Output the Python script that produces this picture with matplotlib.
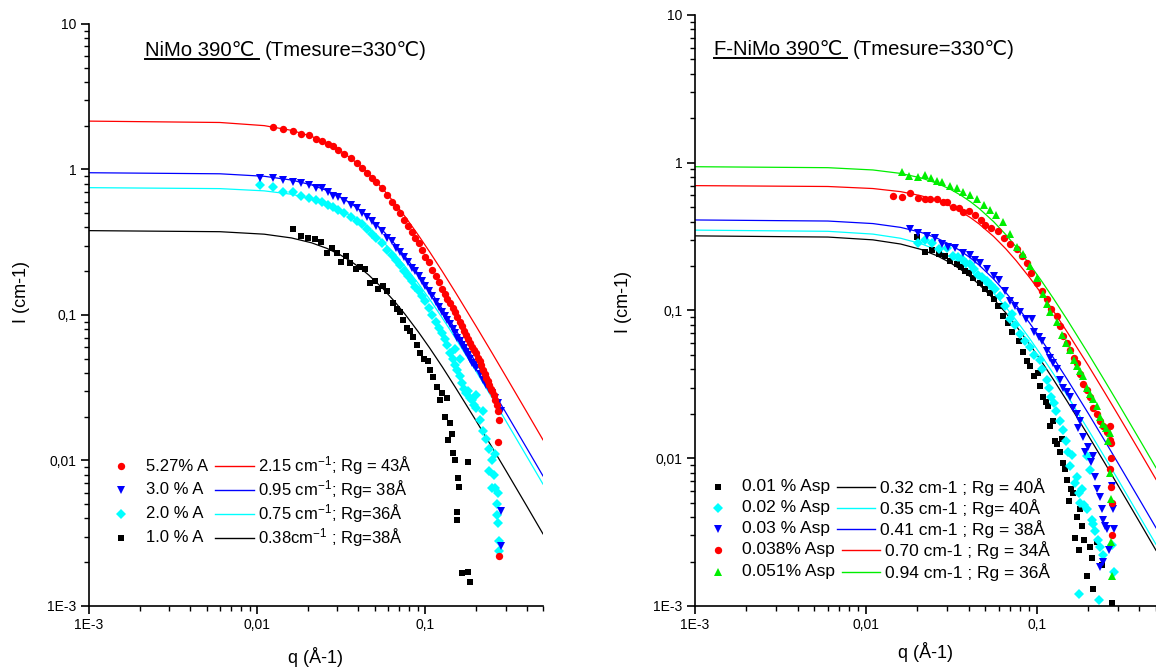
import matplotlib
matplotlib.use('Agg')
import matplotlib.pyplot as plt
from matplotlib.lines import Line2D
from matplotlib.ticker import LogLocator, NullFormatter

plt.rcParams['font.family'] = ['Liberation Sans', 'DejaVu Sans']
plt.rcParams['mathtext.fontset'] = 'custom'
plt.rcParams['mathtext.rm'] = 'Liberation Sans'
plt.rcParams['mathtext.it'] = 'Liberation Sans:italic'

# ---------------- left panel : NiMo 390C ----------------
q_red_L = [0.0124, 0.0143, 0.0163, 0.0183, 0.0203, 0.0223, 0.0243, 0.0263, 0.0283, 0.0303,
           0.033, 0.036, 0.039, 0.042, 0.045, 0.048, 0.051, 0.055, 0.059, 0.063,
           0.067, 0.071, 0.075, 0.079, 0.083, 0.087, 0.091, 0.095, 0.1, 0.105,
           0.11, 0.115, 0.12, 0.125, 0.13, 0.135, 0.14, 0.145, 0.15, 0.155,
           0.16, 0.165, 0.17, 0.175, 0.18, 0.185, 0.19, 0.195, 0.2, 0.205,
           0.21, 0.215, 0.22, 0.225, 0.23, 0.235, 0.24, 0.245, 0.25, 0.255,
           0.26, 0.265, 0.27, 0.275, 0.27, 0.275]
I_red_L = [1.95, 1.90, 1.84, 1.76, 1.72, 1.62, 1.58, 1.49, 1.45, 1.36,
           1.28, 1.20, 1.10, 1.03, 0.95, 0.88, 0.82, 0.74, 0.67, 0.60,
           0.55, 0.50, 0.45, 0.41, 0.37, 0.34, 0.31, 0.28, 0.25, 0.23,
           0.205, 0.185, 0.168, 0.152, 0.140, 0.128, 0.120, 0.112, 0.105, 0.097,
           0.090, 0.084, 0.078, 0.073, 0.068, 0.064, 0.060, 0.057, 0.055, 0.051,
           0.048, 0.045, 0.042, 0.039, 0.037, 0.035, 0.033, 0.031, 0.030, 0.028,
           0.026, 0.024, 0.022, 0.019, 0.0135, 0.0022]

q_blue_L = [0.0104, 0.0124, 0.0143, 0.0163, 0.0183, 0.0203, 0.0223, 0.0243, 0.0263, 0.0283,
            0.0303, 0.033, 0.036, 0.039, 0.042, 0.045, 0.048, 0.051, 0.055, 0.059,
            0.063, 0.067, 0.071, 0.075, 0.079, 0.083, 0.087, 0.091, 0.095, 0.1,
            0.105, 0.11, 0.115, 0.12, 0.125, 0.13, 0.135, 0.14, 0.145, 0.15,
            0.155, 0.16, 0.165, 0.17, 0.175, 0.18, 0.185, 0.19, 0.195, 0.2,
            0.21, 0.22, 0.23, 0.24, 0.25, 0.26, 0.27, 0.28, 0.28, 0.28]
I_blue_L = [0.88, 0.88, 0.85, 0.82, 0.81, 0.78, 0.75, 0.74, 0.70, 0.66,
            0.65, 0.61, 0.57, 0.54, 0.50, 0.47, 0.44, 0.41, 0.38, 0.34,
            0.32, 0.29, 0.27, 0.25, 0.23, 0.21, 0.20, 0.185, 0.172, 0.158,
            0.145, 0.134, 0.122, 0.113, 0.105, 0.098, 0.092, 0.086, 0.080, 0.075,
            0.070, 0.066, 0.062, 0.059, 0.056, 0.053, 0.050, 0.047, 0.045, 0.043,
            0.039, 0.036, 0.033, 0.031, 0.029, 0.027, 0.025, 0.022, 0.0045, 0.0026]

q_cyan_L = [0.0104, 0.0124, 0.0143, 0.0163, 0.0183, 0.0203, 0.0223, 0.0243, 0.0263, 0.0283,
            0.0303, 0.033, 0.036, 0.039, 0.042, 0.045, 0.048, 0.051, 0.055, 0.059,
            0.063, 0.067, 0.071, 0.075, 0.079, 0.083, 0.087, 0.091, 0.095, 0.1,
            0.105, 0.11, 0.115, 0.12, 0.125, 0.13, 0.135, 0.14, 0.145, 0.15,
            0.155, 0.16, 0.165, 0.17, 0.175, 0.18, 0.185, 0.19, 0.195, 0.2,
            0.21, 0.22, 0.23, 0.24, 0.25, 0.255, 0.26, 0.265, 0.27, 0.275,
            0.15, 0.16, 0.2, 0.22, 0.24, 0.25, 0.26, 0.27, 0.275, 0.265]
I_cyan_L = [0.78, 0.76, 0.70, 0.70, 0.66, 0.64, 0.62, 0.60, 0.57, 0.55,
            0.53, 0.50, 0.47, 0.44, 0.42, 0.39, 0.36, 0.34, 0.31, 0.28,
            0.26, 0.24, 0.22, 0.20, 0.185, 0.17, 0.155, 0.145, 0.135, 0.125,
            0.112, 0.100, 0.090, 0.082, 0.075, 0.068, 0.062, 0.055, 0.050, 0.045,
            0.042, 0.038, 0.034, 0.031, 0.029, 0.030, 0.027, 0.026, 0.024, 0.023,
            0.019, 0.016, 0.014, 0.012, 0.010, 0.008, 0.0065, 0.005, 0.0037, 0.0028,
            0.058, 0.050, 0.028, 0.022, 0.0085, 0.0065, 0.011, 0.006, 0.0024, 0.0042]

q_black_L = [0.0163, 0.0182, 0.0201, 0.0221, 0.0239, 0.0259, 0.0277, 0.0297, 0.0314, 0.0336,
             0.0356, 0.0387, 0.0408, 0.0437, 0.0469, 0.050, 0.0525, 0.056, 0.0589, 0.0646,
             0.068, 0.0707, 0.074, 0.0774, 0.081, 0.0848, 0.089, 0.093, 0.098, 0.104,
             0.107, 0.111, 0.117, 0.122, 0.126, 0.131, 0.134, 0.137, 0.14, 0.143,
             0.145, 0.150, 0.154, 0.155, 0.156, 0.158, 0.164, 0.178, 0.178, 0.184]
I_black_L = [0.39, 0.35, 0.34, 0.333, 0.316, 0.268, 0.29, 0.265, 0.232, 0.255,
             0.226, 0.206, 0.215, 0.206, 0.165, 0.17, 0.15, 0.157, 0.145, 0.12,
             0.11, 0.105, 0.092, 0.081, 0.078, 0.071, 0.062, 0.0545, 0.05, 0.048,
             0.042, 0.0377, 0.032, 0.026, 0.029, 0.020, 0.027, 0.0138, 0.018, 0.0153,
             0.0112, 0.0101, 0.0044, 0.0039, 0.0076, 0.0066, 0.00168, 0.0097, 0.0017, 0.00147]

# fitted curves of the left panel
q_fit = [0.001, 0.006, 0.011, 0.016, 0.021, 0.026, 0.031, 0.036, 0.041, 0.046, 0.056,
         0.066, 0.076, 0.091, 0.106, 0.126, 0.151, 0.201, 0.251, 0.301, 0.401, 0.5]
fit_red_L = [2.149, 2.103, 2.001, 1.857, 1.690, 1.518, 1.350, 1.195, 1.056, 0.933, 0.733,
             0.583, 0.4715, 0.352, 0.2713, 0.1994, 0.1428, 0.0830, 0.0540, 0.0378, 0.02148, 0.01386]
fit_blue_L = [0.9495, 0.9338, 0.8977, 0.8458, 0.7837, 0.7168, 0.6496, 0.5851, 0.5251, 0.4707, 0.3786,
              0.3068, 0.2513, 0.1905, 0.1483, 0.1099, 0.0793, 0.04647, 0.03033, 0.02130, 0.01212, 0.00783]
fit_cyan_L = [0.7497, 0.7385, 0.7128, 0.6753, 0.6300, 0.5805, 0.5300, 0.4808, 0.4345, 0.3918, 0.3185,
              0.2603, 0.2146, 0.1638, 0.1281, 0.0954, 0.0691, 0.0406, 0.0266, 0.01868, 0.01064, 0.00688]
fit_black_L = [0.3798, 0.3735, 0.3591, 0.3383, 0.3135, 0.2867, 0.2598, 0.2340, 0.2101, 0.1883, 0.1514,
               0.1227, 0.1005, 0.0762, 0.0593, 0.0440, 0.0317, 0.01859, 0.01213, 0.00852, 0.00485, 0.00313]

# ---------------- right panel : F-NiMo 390C ----------------
q_black_R = [0.0199, 0.0222, 0.0243, 0.027, 0.029, 0.0311, 0.034, 0.036, 0.038, 0.040,
             0.0425, 0.0466, 0.050, 0.0533, 0.0565, 0.0597, 0.061, 0.0638, 0.068, 0.072,
             0.0785, 0.083, 0.0875, 0.092, 0.097, 0.102, 0.105, 0.109, 0.113, 0.117,
             0.12, 0.124, 0.128, 0.132, 0.137, 0.14, 0.143, 0.147, 0.150, 0.154,
             0.158, 0.163, 0.168, 0.172, 0.176, 0.18, 0.185, 0.19, 0.196, 0.205,
             0.21, 0.215, 0.225, 0.24, 0.275]
I_black_R = [0.316, 0.25, 0.257, 0.24, 0.235, 0.216, 0.205, 0.198, 0.185, 0.178,
             0.167, 0.154, 0.14, 0.132, 0.12, 0.107, 0.107, 0.0914, 0.082, 0.072,
             0.062, 0.052, 0.0453, 0.042, 0.036, 0.0378, 0.031, 0.026, 0.024, 0.0225,
             0.0164, 0.018, 0.013, 0.0125, 0.011, 0.0135, 0.0093, 0.0085, 0.0071, 0.0051,
             0.0062, 0.0058, 0.0029, 0.004, 0.0024, 0.0045, 0.0035, 0.0028, 0.0016, 0.0025,
             0.0021, 0.0013, 0.0027, 0.0019, 0.00105]

q_cyan_R = [0.0203, 0.0222, 0.0243, 0.027, 0.0297, 0.0325, 0.0345, 0.0364, 0.0385, 0.0407,
            0.043, 0.0454, 0.048, 0.051, 0.054, 0.057, 0.061, 0.065, 0.0698, 0.072,
            0.075, 0.080, 0.085, 0.0914, 0.097, 0.105, 0.108, 0.1145, 0.118, 0.122,
            0.126, 0.13, 0.137, 0.143, 0.148, 0.152, 0.157, 0.162, 0.167, 0.172,
            0.176, 0.179, 0.185, 0.19, 0.196, 0.196, 0.205, 0.21, 0.215, 0.22,
            0.228, 0.235, 0.245, 0.275, 0.284, 0.176, 0.231]
I_cyan_R = [0.284, 0.30, 0.287, 0.26, 0.263, 0.233, 0.23, 0.222, 0.21, 0.205,
            0.19, 0.175, 0.168, 0.158, 0.148, 0.139, 0.125, 0.108, 0.087, 0.095,
            0.08, 0.069, 0.062, 0.057, 0.05, 0.0465, 0.04, 0.034, 0.03, 0.026,
            0.0237, 0.021, 0.018, 0.0156, 0.013, 0.011, 0.0088, 0.0105, 0.0068, 0.0075,
            0.0058, 0.005, 0.0062, 0.0048, 0.0103, 0.0045, 0.0083, 0.0038, 0.0036, 0.0032,
            0.0028, 0.0025, 0.0022, 0.0026, 0.0017, 0.0012, 0.0011]

q_blue_R = [0.0182, 0.0203, 0.0227, 0.0254, 0.0278, 0.0304, 0.0333, 0.0372, 0.0407, 0.0437,
            0.0466, 0.051, 0.056, 0.060, 0.065, 0.0698, 0.075, 0.080, 0.087, 0.0935,
            0.097, 0.103, 0.108, 0.1145, 0.12, 0.125, 0.131, 0.137, 0.143, 0.15,
            0.157, 0.163, 0.172, 0.175, 0.18, 0.188, 0.193, 0.2, 0.208, 0.215,
            0.22, 0.225, 0.235, 0.24, 0.245, 0.25, 0.257, 0.265, 0.235, 0.245,
            0.275, 0.28, 0.285]
I_blue_R = [0.354, 0.336, 0.32, 0.31, 0.283, 0.27, 0.266, 0.246, 0.237, 0.22,
            0.21, 0.19, 0.171, 0.16, 0.135, 0.116, 0.108, 0.098, 0.088, 0.087,
            0.072, 0.066, 0.062, 0.053, 0.048, 0.044, 0.040, 0.034, 0.030, 0.028,
            0.026, 0.022, 0.020, 0.016, 0.018, 0.014, 0.011, 0.012, 0.0095, 0.0103,
            0.0075, 0.0062, 0.0055, 0.0045, 0.0038, 0.0035, 0.0033, 0.0024, 0.00185, 0.002,
            0.0065, 0.0045, 0.0033]

q_red_R = [0.0144, 0.0162, 0.0182, 0.0203, 0.0222, 0.0238, 0.026, 0.0282, 0.030, 0.0325,
           0.035, 0.0372, 0.040, 0.0436, 0.047, 0.0499, 0.054, 0.0597, 0.064, 0.07,
           0.0764, 0.082, 0.0875, 0.093, 0.1, 0.107, 0.1145, 0.122, 0.131, 0.137,
           0.143, 0.15, 0.157, 0.165, 0.172, 0.18, 0.188, 0.196, 0.205, 0.215,
           0.225, 0.235, 0.246, 0.257, 0.269, 0.27, 0.272, 0.274, 0.268, 0.272,
           0.275, 0.275]
I_red_R = [0.595, 0.59, 0.62, 0.58, 0.57, 0.57, 0.565, 0.54, 0.54, 0.505,
           0.49, 0.464, 0.47, 0.44, 0.41, 0.377, 0.36, 0.345, 0.31, 0.28,
           0.26, 0.235, 0.21, 0.18, 0.154, 0.135, 0.119, 0.103, 0.092, 0.078,
           0.067, 0.06, 0.054, 0.048, 0.044, 0.037, 0.032, 0.029, 0.026, 0.022,
           0.020, 0.018, 0.0164, 0.015, 0.0133, 0.0166, 0.0127, 0.010, 0.0084, 0.0064,
           0.005, 0.003]

q_green_R = [0.0162, 0.018, 0.0203, 0.0222, 0.024, 0.026, 0.028, 0.0311, 0.034, 0.0372,
             0.041, 0.0446, 0.049, 0.0533, 0.058, 0.0638, 0.07, 0.0764, 0.083, 0.0914,
             0.1, 0.109, 0.115, 0.12, 0.131, 0.14, 0.148, 0.157, 0.165, 0.172,
             0.18, 0.188, 0.196, 0.205, 0.215, 0.225, 0.235, 0.245, 0.255, 0.262,
             0.269, 0.27, 0.272, 0.273, 0.275]
I_green_R = [0.866, 0.81, 0.80, 0.82, 0.79, 0.75, 0.74, 0.70, 0.67, 0.63,
             0.60, 0.57, 0.52, 0.48, 0.44, 0.40, 0.33, 0.27, 0.24, 0.20,
             0.165, 0.13, 0.11, 0.098, 0.083, 0.068, 0.06, 0.054, 0.046, 0.042,
             0.039, 0.036, 0.03, 0.027, 0.025, 0.0224, 0.019, 0.017, 0.016, 0.013,
             0.0148, 0.0079, 0.0053, 0.0027, 0.0016]

fit_black_R = [0.3198, 0.3140, 0.3006, 0.2816, 0.2591, 0.2352, 0.2116, 0.1892, 0.1687, 0.1503, 0.1197,
               0.0963, 0.0784, 0.0591, 0.0458, 0.0338, 0.0243, 0.01419, 0.00925, 0.00649, 0.00369, 0.00238]
fit_cyan_R = [0.3498, 0.3434, 0.3288, 0.3080, 0.2834, 0.2573, 0.2314, 0.2070, 0.1846, 0.1644, 0.1310,
              0.1053, 0.0858, 0.0646, 0.0501, 0.0370, 0.0266, 0.01552, 0.01012, 0.00710, 0.00403, 0.00261]
fit_blue_R = [0.4098, 0.4030, 0.3874, 0.3650, 0.3382, 0.3093, 0.2803, 0.2525, 0.2266, 0.2031, 0.1634,
              0.1324, 0.1085, 0.0822, 0.0640, 0.0474, 0.0342, 0.02005, 0.01309, 0.00919, 0.00523, 0.00338]
fit_red_R = [0.6997, 0.6904, 0.6688, 0.6371, 0.5983, 0.5553, 0.5109, 0.4669, 0.4248, 0.3856, 0.3170,
             0.2614, 0.2170, 0.1670, 0.1314, 0.0984, 0.0715, 0.0423, 0.0277, 0.01949, 0.01112, 0.00719]
fit_green_R = [0.9396, 0.9256, 0.8933, 0.8464, 0.7896, 0.7275, 0.6642, 0.6026, 0.5446, 0.4911, 0.3992,
               0.3262, 0.2689, 0.2054, 0.1606, 0.1196, 0.0866, 0.0509, 0.0333, 0.02342, 0.01334, 0.00862]

labels_L = ['5.27% A', '3.0 % A', '2.0 % A', '1.0 % A']
fitlabels_L = [r'2.15 cm$^{-1}$; Rg = 43Å', r'0.95 cm$^{-1}$; Rg= 38Å',
               r'0.75 cm$^{-1}$; Rg=36Å', r'0.38cm$^{-1}$ ; Rg=38Å']
labels_R = ['0.01 % Asp', '0.02 % Asp', '0.03 % Asp', '0.038% Asp', '0.051% Asp']
fitlabels_R = ['0.32 cm-1 ; Rg = 40Å', '0.35 cm-1 ; Rg= 40Å', '0.41 cm-1 ; Rg = 38Å',
               '0.70 cm-1 ; Rg = 34Å', '0.94 cm-1 ; Rg = 36Å']

RED, BLUE, CYAN, BLACK, GREEN = '#ff0000', '#0000ff', '#00ffff', '#000000', '#00ee00'
MS = {'o': 5.3, 'v': 6.0, 'D': 5.2, 's': 4.8, '^': 6.0}


def style_axis(ax, ylab_xy, xlab_y):
    ax.set_xscale('log')
    ax.set_yscale('log')
    ax.set_xlim(1e-3, 0.5)
    ax.set_ylim(1e-3, 10)
    ax.spines['top'].set_visible(False)
    ax.spines['right'].set_visible(False)
    for s in ('left', 'bottom'):
        ax.spines[s].set_linewidth(1.2)
    ax.set_xticks([1e-3, 1e-2, 1e-1])
    ax.set_xticklabels(['1E-3', '0,01', '0,1'])
    ax.set_yticks([1e-3, 1e-2, 1e-1, 1, 10])
    ax.set_yticklabels(['1E-3', '0,01', '0,1', '1', '10'])
    for axis in (ax.xaxis, ax.yaxis):
        axis.set_minor_locator(LogLocator(base=10, subs=range(2, 10), numticks=20))
        axis.set_minor_formatter(NullFormatter())
    ax.tick_params(which='major', direction='out', length=6, width=1.2, labelsize=10, pad=3)
    ax.tick_params(which='minor', direction='out', length=3.5, width=1.0)
    ax.set_xlabel('q (Å-1)', fontsize=13)
    ax.set_ylabel('I (cm-1)', fontsize=13)
    ax.xaxis.label.set_va('center')
    ax.yaxis.label.set_va('center')
    ax.xaxis.set_label_coords(0.5, xlab_y)
    ax.yaxis.set_label_coords(*ylab_xy)


def title(fig, ax, x, y, under, rest, size=14.6):
    t = ax.text(x, y, under, transform=ax.transAxes, fontsize=size, va='baseline')
    r = fig.canvas.get_renderer()
    bb = t.get_window_extent(r)
    inv = fig.transFigure.inverted()
    (fx0, fy), (fx1, _) = inv.transform([(bb.x0, bb.y0 + 1), (bb.x1 + 5, bb.y0 + 1)])
    fig.add_artist(Line2D([fx0, fx1], [fy, fy], color='black', lw=1.4))
    ax_inv = ax.transAxes.inverted()
    rx, _ = ax_inv.transform((bb.x1 + 10, bb.y0))
    ax.text(rx, y, rest, transform=ax.transAxes, fontsize=size, va='baseline')


def legend(ax, rows, mx, tx, lx, fx, markers, colors, labels, fitlabels, size):
    for i, yy in enumerate(rows):
        m = markers[i]
        ax.plot([mx], [yy], m, color=colors[i], ms=MS[m], mew=0, transform=ax.transAxes, clip_on=False)
        ax.text(tx, yy, labels[i], transform=ax.transAxes, fontsize=size, va='center')
        ax.plot(lx[i], [yy, yy], '-', color=colors[i], lw=1.0, transform=ax.transAxes)
        ax.text(fx[i], yy, fitlabels[i], transform=ax.transAxes, fontsize=size, va='center')


fig = plt.figure(figsize=(11.56, 6.71), dpi=100)
ax1 = fig.add_axes([0.0770, 0.0969, 0.3927, 0.8674])
ax2 = fig.add_axes([0.6012, 0.0969, 0.3988, 0.8808])

# left panel
for f, c in [(fit_black_L, BLACK), (fit_cyan_L, CYAN), (fit_blue_L, BLUE), (fit_red_L, RED)]:
    ax1.plot(q_fit, f, '-', color=c, lw=0.9, zorder=2)
ax1.plot(q_black_L, I_black_L, 's', color=BLACK, ms=MS['s'], mew=0, zorder=3)
ax1.plot(q_cyan_L, I_cyan_L, 'D', color=CYAN, ms=MS['D'], mew=0, zorder=3)
ax1.plot(q_blue_L, I_blue_L, 'v', color=BLUE, ms=MS['v'], mew=0, zorder=3)
ax1.plot(q_red_L, I_red_L, 'o', color=RED, ms=MS['o'], mew=0, zorder=3)
style_axis(ax1, (-0.148, 0.54), -0.088)

# right panel
for f, c in [(fit_black_R, BLACK), (fit_cyan_R, CYAN), (fit_blue_R, BLUE), (fit_red_R, RED), (fit_green_R, GREEN)]:
    ax2.plot(q_fit, f, '-', color=c, lw=0.9, zorder=2)
ax2.plot(q_black_R, I_black_R, 's', color=BLACK, ms=MS['s'], mew=0, zorder=3)
ax2.plot(q_cyan_R, I_cyan_R, 'D', color=CYAN, ms=MS['D'], mew=0, zorder=3)
ax2.plot(q_blue_R, I_blue_R, 'v', color=BLUE, ms=MS['v'], mew=0, zorder=3)
ax2.plot(q_red_R, I_red_R, 'o', color=RED, ms=MS['o'], mew=0, zorder=3)
ax2.plot(q_green_R, I_green_R, '^', color=GREEN, ms=MS['^'], mew=0, zorder=3)
style_axis(ax2, (-0.154, 0.514), -0.078)

fig.canvas.draw()
title(fig, ax1, 0.1233, 0.945, 'NiMo 390℃', '(Tmesure=330℃)')
title(fig, ax2, 0.0412, 0.932, 'F-NiMo 390℃', '(Tmesure=330℃)')

legend(ax1, [0.2405, 0.1993, 0.1581, 0.1168], 0.0705, 0.1256,
       [[0.2775, 0.3634]] * 4, [0.3722] * 4,
       ['o', 'v', 'D', 's'], [RED, BLUE, CYAN, BLACK],
       labels_L, fitlabels_L, 12)
legend(ax2, [0.2014, 0.1658, 0.1303, 0.0948, 0.0575], 0.0499, 0.102,
       [[0.308, 0.3905]] * 3 + [[0.3189, 0.4013]] * 2, [0.4013] * 3 + [0.412] * 2,
       ['s', 'D', 'v', 'o', '^'],
       [BLACK, CYAN, BLUE, RED, GREEN], labels_R, fitlabels_R, 12.5)

fig.savefig('out.png', dpi=100)
